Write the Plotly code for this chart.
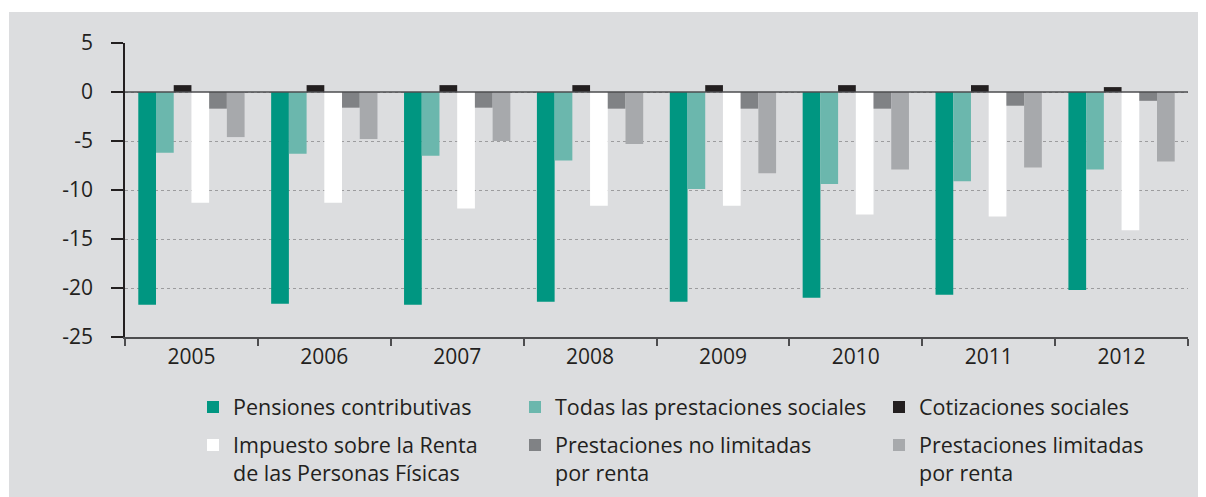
import plotly.graph_objects as go

years = ["2005", "2006", "2007", "2008", "2009", "2010", "2011", "2012"]

pensiones_contributivas = [-21.7, -21.6, -21.7, -21.4, -21.4, -21.0, -20.7, -20.2]
todas_prestaciones = [-6.2, -6.3, -6.5, -7.0, -9.9, -9.4, -9.1, -7.9]
cotizaciones_sociales = [0.7, 0.7, 0.7, 0.7, 0.7, 0.7, 0.7, 0.5]
irpf = [-11.3, -11.3, -11.9, -11.6, -11.6, -12.5, -12.7, -14.1]
prest_no_limitadas = [-1.7, -1.6, -1.6, -1.7, -1.7, -1.7, -1.4, -0.9]
prest_limitadas = [-4.6, -4.8, -5.0, -5.3, -8.3, -7.9, -7.7, -7.1]

series_names = [
    "Pensiones contributivas",
    "Todas las prestaciones sociales",
    "Cotizaciones sociales",
    "Impuesto sobre la Renta<br>de las Personas Físicas",
    "Prestaciones no limitadas<br>por renta",
    "Prestaciones limitadas<br>por renta",
]
series_values = [pensiones_contributivas, todas_prestaciones, cotizaciones_sociales,
                 irpf, prest_no_limitadas, prest_limitadas]
series_colors = ["#009681", "#6BB7AD", "#231F20", "#FFFFFF", "#808285", "#A7A9AC"]

y_tickvals = [5, 0, -5, -10, -15, -20, -25]
y_ticktext = ["5", "0", "-5", "-10", "-15", "-20", "-25"]

FONT = "Open Sans"
TXT = "#231F20"
BG = "#DCDDDF"

# page offset of the plot div (body margin)
OFF = 8
# figure geometry (pixels, paper coordinates)
W, H = 1206 - OFF, 497 - OFF
L, R = 125 - OFF, 18
T = 43 - OFF
B = H - (337 - OFF)
PW, PH = W - L - R, H - T - B

def px_x(page_px):
    return (page_px - OFF - L) / PW

def px_y(page_px):
    return (H - B - (page_px - OFF)) / PH

legend_ids = ["legend", "legend2", "legend3", "legend4", "legend5", "legend6"]
legend_text_x = [233, 555, 919, 233, 555, 919]
legend_mid_y = [407, 407, 407, 459, 459, 459]

fig = go.Figure()
for i, (name, vals, col) in enumerate(zip(series_names, series_values, series_colors)):
    fig.add_trace(go.Bar(
        x=years, y=vals, name=name,
        marker=dict(color=col, line=dict(width=0)),
        legend=legend_ids[i],
    ))

layout_legends = {}
for i, lid in enumerate(legend_ids):
    layout_legends[lid] = dict(
        x=px_x(legend_text_x[i] - 40), y=px_y(legend_mid_y[i]),
        xanchor="left", yanchor="middle",
        bgcolor="rgba(0,0,0,0)", borderwidth=0,
        font=dict(family=FONT, size=21.5, color=TXT),
        valign="top",
    )

fig.update_layout(
    width=W, height=H,
    margin=dict(l=L, r=R, t=T, b=B, pad=0, autoexpand=False),
    paper_bgcolor=BG, plot_bgcolor=BG,
    barmode="group", bargap=0.2, bargroupgap=0,
    showlegend=True,
    font=dict(family=FONT, size=21, color=TXT),
    **layout_legends,
)

fig.update_xaxes(
    type="category", showgrid=False, zeroline=False,
    showline=True, linecolor="#4D4D4F", linewidth=1.5,
    ticks="outside", tickson="boundaries", ticklen=7, tickwidth=1.5, tickcolor="#4D4D4F",
    ticklabelstandoff=0,
    tickfont=dict(family=FONT, size=21, color=TXT),
)
fig.update_yaxes(
    range=[-25, 5], tickvals=y_tickvals, ticktext=y_ticktext,
    showgrid=True, gridcolor="#9C9C9E", griddash="dot", gridwidth=1,
    zeroline=False,
    showline=True, linecolor="#231F20", linewidth=1.5,
    ticks="outside", ticklen=12, tickwidth=1.5, tickcolor="#231F20",
    ticklabelstandoff=14,
    tickfont=dict(family=FONT, size=21, color=TXT),
)

# white margins at top and left of the panel
fig.add_shape(type="rect", xref="paper", yref="paper",
              x0=px_x(0), x1=px_x(9), y0=px_y(600), y1=px_y(0),
              fillcolor="white", line=dict(width=0), layer="above")
fig.add_shape(type="rect", xref="paper", yref="paper",
              x0=px_x(0), x1=px_x(1300), y0=px_y(12), y1=px_y(0),
              fillcolor="white", line=dict(width=0), layer="above")
# zero line over bars
fig.add_shape(type="line", xref="paper", yref="y", x0=0, x1=1, y0=0, y1=0,
              line=dict(color="#4D4D4F", width=1.5), layer="above")

fig.write_html("out.html")
